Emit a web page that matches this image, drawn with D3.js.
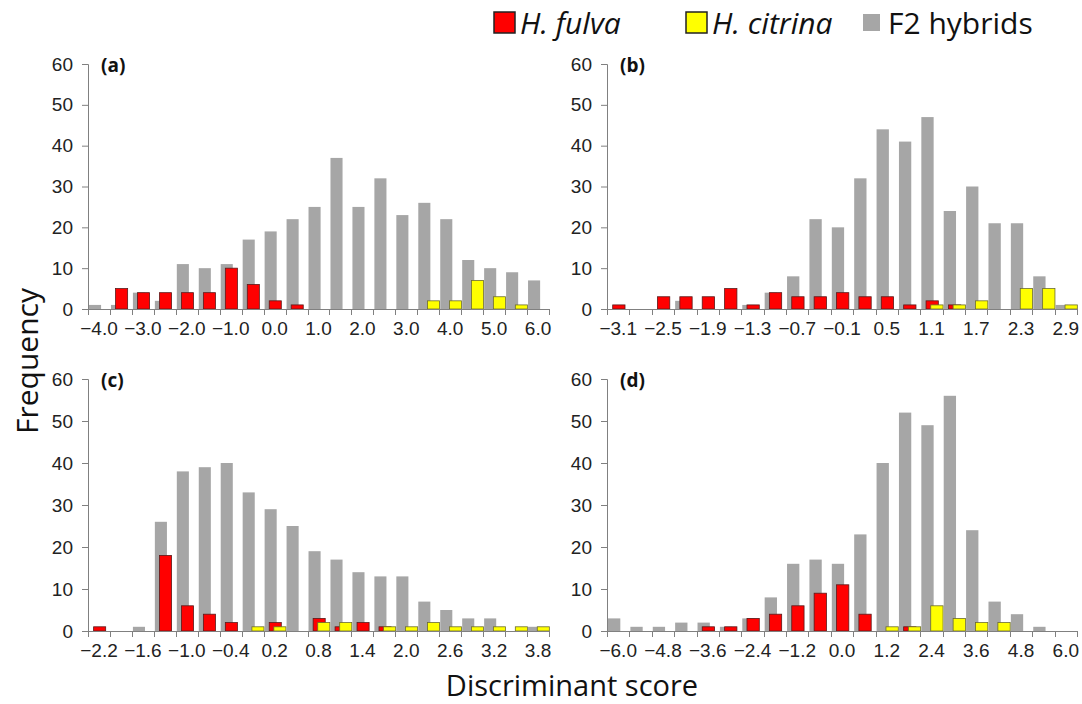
<!DOCTYPE html>
<html>
<head>
<meta charset="utf-8">
<script src="https://cdn.jsdelivr.net/npm/d3@7"></script>
<style>
  body { margin: 0; background: #fff; }
  svg { display: block; font-family: "Open Sans", "Noto Sans", sans-serif; }
  .tick text { fill: #222; }
</style>
</head>
<body>
<svg id="chart" width="1082" height="704"></svg>
<script>
// category labels (bin centres) for each panel
var catsA = ["−4.0","−3.5","−3.0","−2.5","−2.0","−1.5","−1.0","−0.5","0.0","0.5","1.0","1.5","2.0","2.5","3.0","3.5","4.0","4.5","5.0","5.5","6.0"];
var catsB = ["−3.1","−2.8","−2.5","−2.2","−1.9","−1.6","−1.3","−1.0","−0.7","−0.4","−0.1","0.2","0.5","0.8","1.1","1.4","1.7","2.0","2.3","2.6","2.9"];
var catsC = ["−2.2","−1.9","−1.6","−1.3","−1.0","−0.7","−0.4","−0.1","0.2","0.5","0.8","1.1","1.4","1.7","2.0","2.3","2.6","2.9","3.2","3.5","3.8"];
var catsD = ["−6.0","−5.4","−4.8","−4.2","−3.6","−3.0","−2.4","−1.8","−1.2","−0.6","0.0","0.6","1.2","1.8","2.4","3.0","3.6","4.2","4.8","5.4","6.0"];

// frequencies: F2 hybrids (gray), H. fulva (red), H. citrina (yellow)
var f2A     = [1,1,4,2,11,10,11,17,19,22,25,37,25,32,23,26,22,12,10,9,7];
var fulvaA  = [0,5,4,4,4,4,10,6,2,1,0,0,0,0,0,0,0,0,0,0,0];
var citrA   = [0,0,0,0,0,0,0,0,0,0,0,0,0,0,0,2,2,7,3,1,0];

var f2B     = [0,0,0,2,0,0,1,4,8,22,20,32,44,41,47,24,30,21,21,8,1];
var fulvaB  = [1,0,3,3,3,5,1,4,3,3,4,3,3,1,2,1,0,0,0,0,0];
var citrB   = [0,0,0,0,0,0,0,0,0,0,0,0,0,0,1,1,2,0,5,5,1];

var f2C     = [0,0,1,26,38,39,40,33,29,25,19,17,14,13,13,7,5,3,3,0,1];
var fulvaC  = [1,0,0,18,6,4,2,0,2,0,3,1,2,1,0,0,0,0,0,0,0];
var citrC   = [0,0,0,0,0,0,0,1,1,0,2,2,0,1,1,2,1,1,1,1,1];

var f2D     = [3,1,1,2,2,1,3,8,16,17,16,23,40,52,49,56,24,7,4,1,0];
var fulvaD  = [0,0,0,0,1,1,3,4,6,9,11,4,0,1,0,0,0,0,0,0,0];
var citrD   = [0,0,0,0,0,0,0,0,0,0,0,0,1,1,6,3,2,2,0,0,0];

var yTicks = [0,10,20,30,40,50,60];

var panels = [
  {tag:"(a)", cats:catsA, f2:f2A, fulva:fulvaA, citr:citrA, x0:88,  x1:549, y0:309, y1:64},
  {tag:"(b)", cats:catsB, f2:f2B, fulva:fulvaB, citr:citrB, x0:607, x1:1077, y0:309, y1:64},
  {tag:"(c)", cats:catsC, f2:f2C, fulva:fulvaC, citr:citrC, x0:88,  x1:549, y0:631, y1:379},
  {tag:"(d)", cats:catsD, f2:f2D, fulva:fulvaD, citr:citrD, x0:607, x1:1077, y0:631, y1:379}
];

var svg = d3.select("#chart");
var axisCol = "#808080";

panels.forEach(function(p) {
  var g = svg.append("g");
  var x = d3.scaleBand().domain(p.cats).range([p.x0, p.x1]).padding(0);
  var y = d3.scaleLinear().domain([0, 60]).range([p.y0, p.y1]);
  var bw = x.bandwidth();
  var barW = bw * 0.55;
  var step = (bw * 0.97 - barW) / 2;

  // series drawn gray -> red -> yellow, offset left to right
  var series = [
    {vals:p.f2,    fill:"#a6a6a6", stroke:"none",    k:0},
    {vals:p.fulva, fill:"#ff0000", stroke:"#5a1a1a", k:1},
    {vals:p.citr,  fill:"#ffff00", stroke:"#6b6b30", k:2}
  ];
  series.forEach(function(s) {
    g.selectAll(null)
      .data(p.cats.map(function(c, i) { return {c:c, v:s.vals[i]}; }).filter(function(d) { return d.v > 0; }))
      .enter().append("rect")
      .attr("x", function(d) { return x(d.c) + 1 + s.k * step; })
      .attr("y", function(d) { return y(d.v); })
      .attr("width", barW)
      .attr("height", function(d) { return y(0) - y(d.v); })
      .attr("fill", s.fill)
      .attr("stroke", s.stroke)
      .attr("stroke-width", s.stroke === "none" ? 0 : 0.8);
  });

  // y axis
  var ya = g.append("g").attr("transform", "translate(" + p.x0 + ",0)")
    .call(d3.axisLeft(y).tickValues(yTicks).tickSize(6).tickPadding(9));
  ya.select(".domain").attr("stroke", axisCol);
  ya.selectAll(".tick line").attr("stroke", axisCol);
  ya.selectAll(".tick text").style("font-size", "19px");

  // x axis: labels on every other category, ticks on category boundaries
  var xa = g.append("g").attr("transform", "translate(0," + p.y0 + ")")
    .call(d3.axisBottom(x)
      .tickValues(p.cats.filter(function(c, i) { return i % 2 === 0; }))
      .tickSize(0).tickSizeOuter(0).tickPadding(13));
  xa.select(".domain").attr("stroke", axisCol).attr("d", "M" + p.x0 + ",0.5H" + p.x1);
  xa.selectAll(".tick text").style("font-size", "19px");
  g.selectAll(null)
    .data(p.cats.concat(["end"]))
    .enter().append("line")
    .attr("x1", function(c, i) { return i < p.cats.length ? Math.round(x(c)) + 0.5 : Math.round(p.x1) + 0.5; })
    .attr("x2", function(c, i) { return i < p.cats.length ? Math.round(x(c)) + 0.5 : Math.round(p.x1) + 0.5; })
    .attr("y1", p.y0).attr("y2", p.y0 + 6)
    .attr("stroke", axisCol);

  g.append("text")
    .attr("x", p.x0 + 13).attr("y", p.y1 + 8)
    .style("font-size", "19px").style("font-weight", "bold").attr("fill", "#111")
    .text(p.tag);
});

// axis titles
svg.append("text")
  .attr("transform", "translate(38,361) rotate(-90)")
  .attr("text-anchor", "middle")
  .style("font-size", "30px").attr("fill", "#111")
  .text("Frequency");
svg.append("text")
  .attr("x", 572).attr("y", 696)
  .attr("text-anchor", "middle")
  .style("font-size", "29px").attr("fill", "#111")
  .text("Discriminant score");

// legend
var legendNames = ["H. fulva", "H. citrina", "F2 hybrids"];
var legendFill = ["#ff0000", "#ffff00", "#a6a6a6"];
var legendX = [494, 686, 862];
var leg = svg.append("g");
legendNames.forEach(function(n, i) {
  var gray = i === 2;
  leg.append("rect")
    .attr("x", legendX[i] + (gray ? 1 : 0)).attr("y", gray ? 14 : 12)
    .attr("width", gray ? 17 : 21).attr("height", gray ? 17 : 21)
    .attr("fill", legendFill[i])
    .attr("stroke", gray ? "none" : "#222").attr("stroke-width", 1.5);
  leg.append("text")
    .attr("x", legendX[i] + 26).attr("y", 34)
    .style("font-size", "30px").style("font-style", gray ? "normal" : "italic")
    .attr("fill", "#111")
    .text(n);
});
</script>
</body>
</html>
